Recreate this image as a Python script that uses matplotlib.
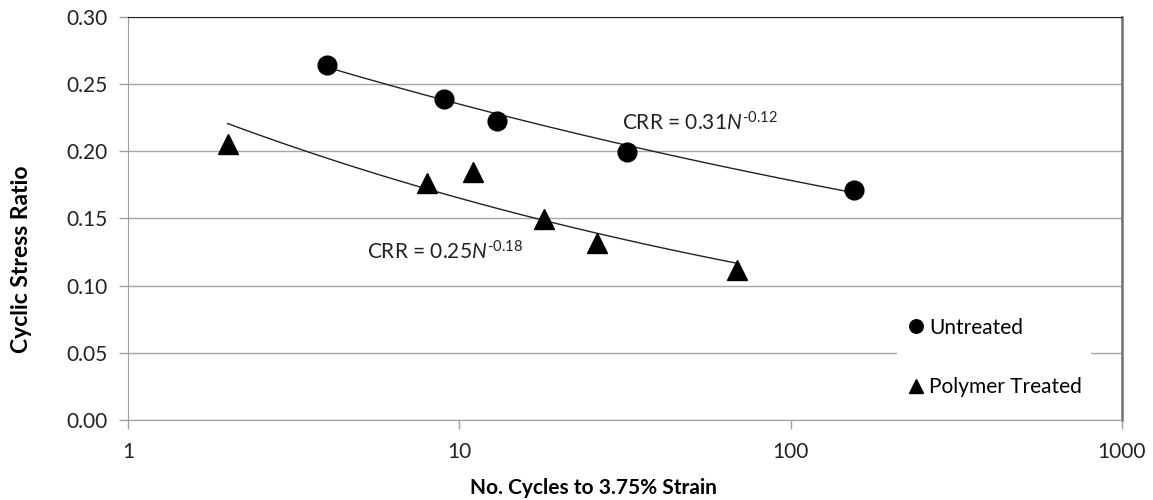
import matplotlib.pyplot as plt
import numpy as np

plt.rcParams['font.family'] = ['Lato', 'DejaVu Sans']
plt.rcParams['mathtext.fontset'] = 'custom'
plt.rcParams['mathtext.rm'] = 'Lato'
plt.rcParams['mathtext.it'] = 'Lato:italic'

# untreated specimens
n_untreated = [4, 9, 13, 32, 155]
csr_untreated = [0.2645, 0.2387, 0.2228, 0.1995, 0.1712]

# polymer treated specimens
n_polymer = [2, 8, 11, 18, 26, 69]
csr_polymer = [0.2058, 0.1765, 0.1846, 0.1496, 0.1318, 0.1113]

# power-law fits CRR = a * N^b
fit_untreated = (0.31, -0.12)
fit_polymer = (0.25, -0.18)

fig = plt.figure(figsize=(11.53, 5.0), dpi=100)
ax = fig.add_axes([0.111, 0.16, 0.862, 0.806])

# trend lines
nn = np.logspace(np.log10(min(n_untreated)), np.log10(max(n_untreated)), 100)
ax.plot(nn, fit_untreated[0] * nn ** fit_untreated[1], color='#222222', lw=1.0, zorder=2)
nn = np.logspace(np.log10(min(n_polymer)), np.log10(max(n_polymer)), 100)
ax.plot(nn, fit_polymer[0] * nn ** fit_polymer[1], color='#222222', lw=1.0, zorder=2)

ax.plot(n_untreated, csr_untreated, 'o', color='black', ms=13.5, ls='none',
        label='Untreated', zorder=3)
ax.plot(n_polymer, csr_polymer, '^', color='black', ms=14, ls='none',
        label='Polymer Treated', zorder=3)

ax.set_xscale('log')
ax.set_xlim(1, 1000)
ax.set_ylim(0, 0.30)
ax.set_xticks([1, 10, 100, 1000])
ax.set_xticklabels(['1', '10', '100', '1000'])
ax.minorticks_off()
ax.set_yticks(np.arange(0, 0.301, 0.05))
ax.set_yticklabels(['%.2f' % v for v in np.arange(0, 0.301, 0.05)])

ax.grid(axis='y', color='#a6a6a6', lw=1.0)
ax.set_axisbelow(True)
ax.spines['top'].set_color('#202020')
ax.spines['right'].set_color('#707070')
ax.spines['right'].set_linewidth(1.8)
ax.spines['left'].set_color('#a0a0a0')
ax.spines['bottom'].set_color('#a0a0a0')
ax.tick_params(axis='both', labelsize=15, colors='#a0a0a0', labelcolor='#222222',
               length=6.5, width=1)
ax.tick_params(axis='x', pad=9)
ax.tick_params(axis='y', pad=8)

ax.set_xlabel('No. Cycles to 3.75% Strain', fontsize=15, fontweight='bold', va='center')
ax.xaxis.set_label_coords(0.468, -0.168)
ax.set_ylabel('Cyclic Stress Ratio', fontsize=16.5, fontweight='bold', va='center')
ax.yaxis.set_label_coords(-0.107, 0.40)

ax.text(31, 0.221, r'CRR = 0.31$\mathit{N}^{\text{-0.12}}$', fontsize=15,
        color='#222222', ha='left', va='center')
ax.text(5.27, 0.125, r'CRR = 0.25$\mathit{N}^{\text{-0.18}}$', fontsize=15,
        color='#222222', ha='left', va='center')

leg = ax.legend(loc='lower left', bbox_to_anchor=(0.767, 0.018), frameon=True,
                fontsize=15, labelspacing=1.9, handletextpad=0.1,
                handlelength=1.0, markerscale=0.72, borderpad=0.45,
                borderaxespad=0.3, fancybox=False)
leg.get_frame().set_facecolor('white')
leg.get_frame().set_edgecolor('none')
leg.get_frame().set_alpha(1)

fig.savefig('out.png', dpi=100)
